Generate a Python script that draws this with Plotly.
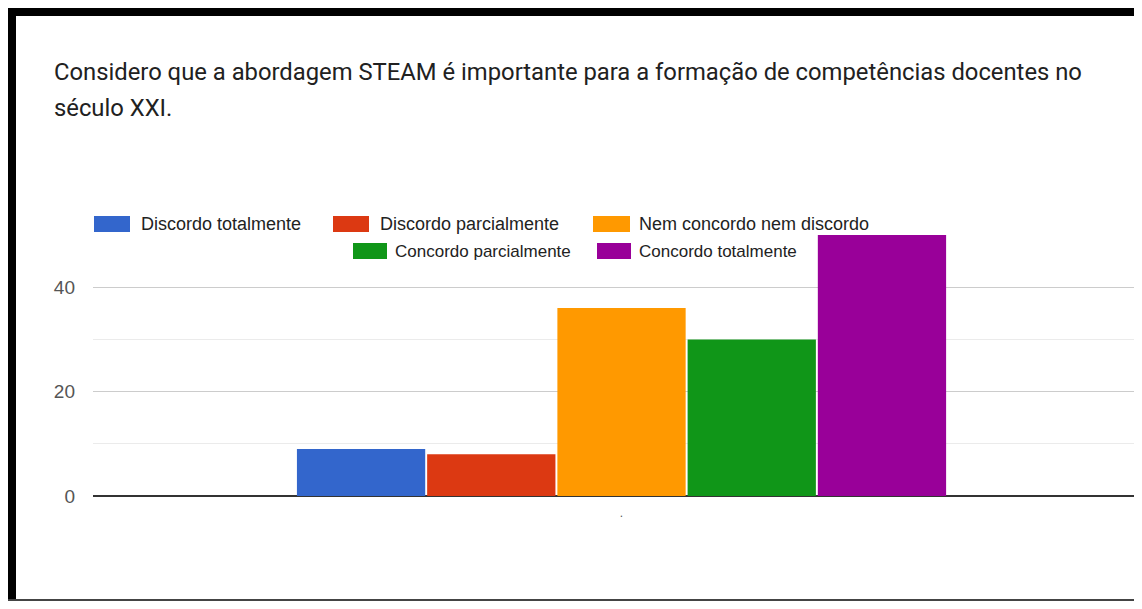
import plotly.graph_objects as go

# ---- data ----
categories = ["Discordo totalmente", "Discordo parcialmente", "Nem concordo nem discordo",
              "Concordo parcialmente", "Concordo totalmente"]
values = [9, 8, 36, 30, 50]
colors = ["#3366cc", "#dc3912", "#ff9900", "#109618", "#990099"]
y_ticks = [0, 20, 40]
x_tick_labels = ["."]
title_lines = ["Considero que a abordagem STEAM é importante para a formação de competências docentes no",
               "século XXI."]

# ---- layout geometry ----
# The page body has an 8px margin, so the figure starts at page pixel (8, 8).
OFF = 8
W, H = 1134, 593
ML, MR, MT, MB = 85, 0, 227, 105
PW = W - ML - MR
PH = H - MT - MB


def px(p):
    """page pixel x -> paper coordinate"""
    return (p - OFF - ML) / PW


def py(p):
    """page pixel y -> paper coordinate"""
    return (H - MB - (p - OFF)) / PH


fig = go.Figure()
for name, v, c in zip(categories, values, colors):
    fig.add_trace(go.Bar(x=[0], y=[v], name=name, showlegend=False,
                         marker=dict(color=c, line=dict(width=0))))

shapes = []
annotations = []

# title
title_y = [72, 108]
for line, yy in zip(title_lines, title_y):
    annotations.append(dict(text=line, xref="paper", yref="paper", x=px(52), y=py(yy),
                            xanchor="left", yanchor="middle", showarrow=False,
                            font=dict(family="Roboto", size=23.8, color="#212121")))

# legend (custom, two centered rows)
legend_items = [
    # swatch x0, x1, y0, y1, text x, text y, font size (page pixels)
    (94, 130, 216, 232, 139, 224, 18),
    (333, 369, 216, 232, 378, 224, 18),
    (593, 630, 216, 232, 637, 224, 18),
    (353, 387, 243, 259, 393, 251, 17),
    (597, 631, 243, 259, 637, 251, 17),
]
for (x0, x1, y0, y1, tx, ty, fs), name, c in zip(legend_items, categories, colors):
    shapes.append(dict(type="rect", xref="paper", yref="paper", x0=px(x0), x1=px(x1),
                       y0=py(y1), y1=py(y0), fillcolor=c, line=dict(width=0), layer="above"))
    annotations.append(dict(text=name, xref="paper", yref="paper", x=px(tx), y=py(ty),
                            xanchor="left", yanchor="middle", showarrow=False,
                            font=dict(family="Liberation Sans, Arial", size=fs, color="#222222")))

# black frame of the screenshot
shapes.append(dict(type="rect", xref="paper", yref="paper", x0=px(8), x1=px(1142),
                   y0=py(16), y1=py(8), fillcolor="#000000", line=dict(width=0), layer="above"))
shapes.append(dict(type="rect", xref="paper", yref="paper", x0=px(8), x1=px(16),
                   y0=py(601), y1=py(8), fillcolor="#000000", line=dict(width=0), layer="above"))
shapes.append(dict(type="rect", xref="paper", yref="paper", x0=px(8), x1=px(1142),
                   y0=py(601), y1=py(599), fillcolor="#444444", line=dict(width=0), layer="above"))

fig.update_layout(
    width=W, height=H,
    margin=dict(l=ML, r=MR, t=MT, b=MB, pad=0),
    paper_bgcolor="white", plot_bgcolor="white",
    barmode="group", bargap=0.384, bargroupgap=0.015,
    showlegend=False,
    shapes=shapes, annotations=annotations,
    xaxis=dict(range=[-0.5, 0.4924], tickvals=[0], ticktext=x_tick_labels,
               showgrid=False, zeroline=False, showline=False, ticks="",
               tickfont=dict(family="Liberation Sans, Arial", size=12, color="#555555"),
               ticklabelstandoff=8, fixedrange=True),
    yaxis=dict(range=[0, 50], tickvals=y_ticks, showgrid=True, gridcolor="#cccccc", gridwidth=1,
               minor=dict(dtick=10, tick0=0, showgrid=True, gridcolor="#ebebeb", gridwidth=1),
               zeroline=True, zerolinecolor="#333333", zerolinewidth=2,
               showline=False, ticks="",
               tickfont=dict(family="Liberation Sans, Arial", size=19, color="#555555"),
               ticklabelstandoff=17),
)

fig.write_html("out.html")
